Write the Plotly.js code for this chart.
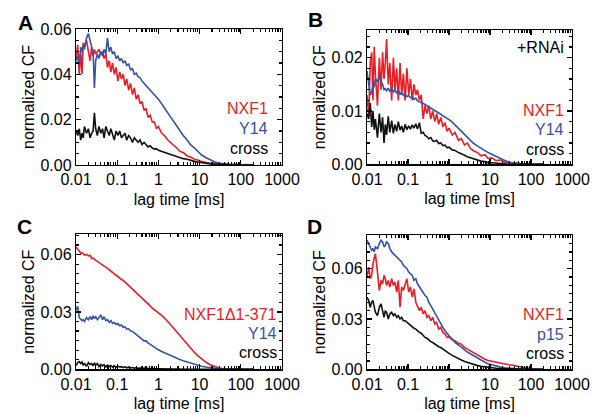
<!DOCTYPE html>
<html><head><meta charset="utf-8">
<script src="https://cdn.plot.ly/plotly-3.0.1.min.js"></script>
<style>html,body{margin:0;padding:0;background:#fff}#chart{width:597px;height:414px}</style>
</head><body><div id="chart"></div>
<script>
// ---------------- DATA ----------------
const lagTime = [
  0.010, 0.011, 0.012, 0.013, 0.014, 0.015, 0.016, 0.018, 0.020, 0.022,
  0.024, 0.026, 0.028, 0.030, 0.033, 0.036, 0.040, 0.044, 0.048, 0.053,
  0.058, 0.064, 0.070, 0.077, 0.085, 0.094, 0.104, 0.115, 0.127, 0.14,
  0.155, 0.17, 0.19, 0.21, 0.235, 0.26, 0.29, 0.32, 0.36, 0.40,
  0.45, 0.50, 0.56, 0.63, 0.71, 0.80, 0.90, 1.0, 1.2, 1.4,
  1.7, 2.0, 2.4, 2.8, 3.3, 4.0, 5.0, 6.0, 7.5, 9.0,
  11, 14, 18, 23, 30, 40, 55, 75, 100, 140, 200
];
// Panel A
const aNXF1 = [
  .047,.053,.040,.050,.040,.054,.052,.055,.050,.046,
  .052,.048,.051,.049,.050,.051,.049,.050,.047,.049,
  .043,.046,.041,.045,.040,.043,.037,.041,.038,.040,
  .035,.038,.033,.036,.031,.034,.029,.031,.027,.028,
  .024,.025,.021,.022,.019,.019,.016,.017,.014,.013,
  .011,.010,.0085,.0075,.006,.0055,.004,.0035,.0025,.0022,
  .0015,.0012,.0008,.0010,.0004,.0006,.0002,.0004,.0001,.0002,0
];
const aY14 = [
  .046,.048,.044,.052,.050,.053,.051,.056,.058,.054,
  .052,.050,.034,.046,.049,.047,.050,.048,.051,.049,
  .056,.050,.052,.049,.050,.047,.048,.046,.047,.045,
  .046,.044,.0445,.042,.0425,.040,.0405,.039,.0385,.037,
  .036,.035,.034,.033,.032,.031,.030,.029,.027,.025,
  .023,.021,.019,.017,.015,.013,.011,.009,.0075,.006,
  .0045,.0033,.0022,.0014,.0008,.0004,.0002,.0001,0,0,0
];
const aCross = [
  .015,.013,.016,.011,.014,.012,.017,.014,.016,.012,
  .014,.015,.023,.016,.013,.017,.014,.016,.012,.017,
  .015,.013,.016,.014,.011,.015,.013,.015,.012,.013,
  .014,.011,.013,.012,.010,.012,.011,.010,.011,.009,
  .010,.009,.008,.0085,.0075,.007,.0072,.0065,.006,.0055,
  .005,.0045,.004,.0038,.0032,.0028,.0025,.002,.0016,.0013,
  .001,.0008,.0005,.0004,.0002,.0003,.0001,0,.0002,0,0
];
// Panel B (+RNAi)
const bNXF1 = [
  .013,.009,.019,.021,.012,.022,.017,.011,.020,.014,
  .021,.016,.019,.0235,.015,.019,.012,.020,.014,.018,
  .012,.019,.013,.017,.012,.018,.013,.016,.012,.015,
  .013,.014,.012,.013,.0085,.011,.0095,.011,.0085,.010,
  .008,.0095,.0075,.0088,.007,.0078,.0062,.0068,.0055,.006,
  .0045,.0048,.0036,.004,.003,.0025,.0022,.0016,.0018,.0011,
  .0012,.0007,.0008,.0004,.0003,.0002,.0002,.0001,0,0,.0001
];
const bY14 = [
  .0175,.015,.013,.0135,.015,.0145,.016,.0155,.0165,.0155,
  .015,.014,.0142,.0138,.0143,.0137,.0142,.0136,.014,.0133,
  .0139,.0131,.0135,.0129,.0132,.0127,.0129,.0125,.0127,.0122,
  .0124,.0119,.0118,.0116,.0114,.0112,.011,.0108,.0106,.0104,
  .0101,.0099,.0096,.0094,.0091,.0089,.0087,.0084,.0079,.0074,
  .0068,.0062,.0056,.005,.0045,.0039,.0034,.003,.0026,.0022,
  .0019,.0015,.0011,.0007,.0004,.0002,.0001,0,0,0,0
];
const bCross = [
  .0095,.0085,.0115,.007,.010,.0065,.0085,.005,.0095,.006,
  .0088,.004,.0075,.0055,.009,.006,.0082,.0058,.0075,.0062,
  .008,.0064,.0072,.006,.0075,.0065,.0072,.0066,.0074,.0068,
  .0076,.0066,.0078,.0058,.006,.0054,.0052,.0048,.005,.0044,
  .0043,.0045,.0039,.004,.0035,.0036,.0031,.0032,.0027,.0026,
  .0022,.002,.0017,.0014,.0012,.001,.0008,.0006,.0005,.0003,
  .0003,.0002,.0001,.0001,0,0,0,0,0,0,0
];
// Panel C
const cNXF1d = [
  .064,.0628,.0622,.0608,.061,.0603,.0598,.0601,.0594,.0596,
  .058,.0582,.0575,.057,.0565,.0558,.0553,.0545,.054,.0535,
  .0528,.0522,.0515,.0508,.050,.0494,.0486,.0478,.047,.0465,
  .0456,.0448,.044,.0432,.0423,.0414,.0405,.0395,.0386,.0376,
  .0365,.0355,.0343,.0332,.032,.0312,.0303,.0295,.0282,.0268,
  .025,.0232,.0212,.0195,.0176,.0153,.0128,.0109,.0088,.0072,
  .0056,.0038,.0024,.0014,.0007,.0003,.0002,.0001,.0001,0,0
];
const cY14 = [
  .031,.033,.027,.026,.0255,.026,.025,.027,.026,.0275,
  .026,.028,.0265,.0275,.026,.027,.0285,.026,.0275,.0255,
  .026,.0245,.0255,.024,.0245,.0235,.024,.0228,.0232,.022,
  .0222,.021,.0212,.020,.0198,.019,.0183,.0176,.0168,.0158,
  .0148,.015,.0138,.013,.0124,.0116,.0109,.0102,.0093,.0086,
  .0077,.007,.0063,.0057,.0051,.0045,.0038,.0032,.0026,.0021,
  .0016,.0012,.0008,.0005,.0003,.0002,.0001,0,0,0,0
];
const cCross = [
  .002,.0035,.004,.003,.0038,.002,.0032,.0015,.0035,.0025,
  .003,.0018,.0034,.0022,.003,.0014,.0026,.0018,.0024,.0012,
  .0022,.0015,.002,.0012,.0018,.001,.0016,.0012,.0014,.0009,
  .0013,.0008,.0011,.0007,.0009,.0006,.0008,.0005,.0007,.0004,
  .0006,.0004,.0005,.0003,.0004,.0002,.0003,.0002,.0002,.0001,
  .0002,.0001,.0001,.0001,0,.0001,0,0,0,0,
  0,0,0,0,0,0,0,0,0,0,0
];
// Panel D
const dNXF1 = [
  .055,.061,.054,.056,.063,.066,.069,.058,.047,.053,
  .051,.056,.054,.050,.053,.049,.054,.050,.052,.046,
  .053,.037,.049,.047,.051,.054,.046,.049,.043,.048,
  .040,.038,.035,.037,.033,.035,.031,.032,.029,.031,
  .027,.028,.024,.025,.022,.021,.019,.0195,.0175,.017,
  .0155,.015,.013,.012,.011,.0095,.008,.007,.006,.0052,
  .0047,.004,.0036,.0032,.0027,.002,.0015,.0009,.0005,.0002,0
];
const dP15 = [
  .077,.075,.073,.071,.072,.070,.073,.072,.075,.077,
  .076,.073,.074,.076,.075,.072,.070,.069,.068,.067,
  .066,.065,.064,.062,.061,.060,.058,.057,.056,.053,
  .054,.051,.049,.048,.046,.044,.043,.040,.038,.036,
  .033,.031,.029,.027,.025,.023,.021,.020,.018,.016,
  .0145,.013,.0115,.0103,.0093,.008,.0065,.0053,.0042,.0033,
  .0026,.0019,.0013,.0009,.0006,.0004,.0002,.0001,0,0,0
];
const dCross = [
  .043,.041,.037,.040,.041,.036,.034,.032,.037,.039,
  .034,.031,.035,.034,.030,.033,.034,.032,.033,.031,
  .032,.030,.031,.029,.029,.028,.027,.026,.025,.0245,
  .024,.023,.022,.0215,.020,.019,.0185,.0175,.0165,.016,
  .015,.0145,.0135,.013,.012,.011,.0102,.0095,.0083,.0073,
  .0063,.0055,.0046,.004,.0034,.0028,.0022,.0018,.0014,.0011,
  .0009,.0006,.0004,.0003,.0002,.0001,0,0,0,0,0
];
const panelLetters = ['A', 'B', 'C', 'D'];
const legendA = ['NXF1', 'Y14', 'cross'];
const legendB = ['NXF1', 'Y14', 'cross'];
const legendC = ['NXF1\u03941-371', 'Y14', 'cross'];
const legendD = ['NXF1', 'p15', 'cross'];
const noteB = '+RNAi';
const xTickVals = [0.01, 0.1, 1, 10, 100, 1000];
const xTickText = ['0.01', '0.1', '1', '10', '100', '1000'];
const yTicksA = [0, 0.02, 0.04, 0.06];
const yTicksB = [0, 0.01, 0.02];
const yTicksC = [0, 0.03, 0.06];
const yTicksD = [0, 0.03, 0.06];

// ---------------- STYLE / LAYOUT ----------------
const W = 597, H = 414;
const FONT = '"Liberation Sans", Arial, Helvetica, sans-serif';
const RED = '#ec1c24', BLUE = '#3551a8', BLACK = '#111111';
const COLORS = [RED, BLUE, BLACK];
const TICKSIZE = 16, TITLESIZE = 16, LEGSIZE = 16, LETTERSIZE = 21;

const minorX = [];
for (const d of [0.01, 0.1, 1, 10, 100]) for (let k = 2; k <= 9; k++) minorX.push(+(k * d).toPrecision(3));

const panels = [
  {box: {l: 76, r: 282, t: 29, b: 165}, yMax: 0.06, yTicks: yTicksA, yMinor: 0.005,
   series: [aNXF1, aY14, aCross], legend: legendA, legX: 270, legY: [108, 128, 148],
   letter: {x: 25, y: 22}},
  {box: {l: 367, r: 572, t: 30, b: 164.3}, yMax: 0.0252, yTicks: yTicksB, yMinor: 0.002,
   series: [bNXF1, bY14, bCross], legend: legendB, legX: 566, legY: [110, 129, 149],
   letter: {x: 315, y: 20}},
  {box: {l: 76, r: 282, t: 234, b: 369.3}, yMax: 0.0708, yTicks: yTicksC, yMinor: 0.005,
   series: [cNXF1d, cY14, cCross], legend: legendC, legX: 279, legY: [314, 333, 352],
   letter: {x: 24, y: 226}},
  {box: {l: 367, r: 572, t: 235, b: 369.3}, yMax: 0.0801, yTicks: yTicksD, yMinor: 0.005,
   series: [dNXF1, dP15, dCross], legend: legendD, legX: 566, legY: [314, 334, 353],
   letter: {x: 314, y: 226}}
];

const px = v => v / W, py = v => 1 - v / H;
const traces = [];
const layout = {
  width: W, height: H, margin: {l: 0, r: 0, t: 0, b: 0},
  paper_bgcolor: '#fff', plot_bgcolor: '#fff', showlegend: false,
  font: {family: FONT, size: TICKSIZE, color: '#000'},
  annotations: []
};

panels.forEach((p, i) => {
  const n = i === 0 ? '' : String(i + 1);
  const xa = 'x' + n, ya = 'y' + n;
  p.series.forEach((ys, j) => {
    traces.push({x: lagTime, y: ys, xaxis: xa, yaxis: ya, type: 'scatter', mode: 'lines',
      line: {color: COLORS[j], width: 1.6}, hoverinfo: 'skip'});
  });
  const common = {showline: true, linecolor: '#000', linewidth: 1.2, mirror: 'allticks',
    ticks: 'inside', ticklen: 5, tickwidth: 1.2, tickcolor: '#000', showgrid: false, zeroline: false,
    tickfont: {family: FONT, size: TICKSIZE, color: '#000'}, fixedrange: true};
  layout['xaxis' + n] = Object.assign({}, common, {
    type: 'log', range: [-2, 3], domain: [px(p.box.l), px(p.box.r)], anchor: ya,
    tickmode: 'array', tickvals: xTickVals, ticktext: xTickText,
    minor: {tickmode: 'array', tickvals: minorX, ticks: 'inside', ticklen: 3, tickcolor: '#000', showgrid: false},
    title: {text: 'lag time [ms]', font: {family: FONT, size: TITLESIZE, color: '#000'}, standoff: 6}
  });
  layout['yaxis' + n] = Object.assign({}, common, {
    range: [0, p.yMax], domain: [py(p.box.b), py(p.box.t)], anchor: xa,
    tickmode: 'array', tickvals: p.yTicks, ticktext: p.yTicks.map(v => v.toFixed(2)),
    minor: {tickmode: 'linear', tick0: 0, dtick: p.yMinor, ticks: 'inside', ticklen: 3, tickcolor: '#000', showgrid: false},
    title: {text: 'normalized CF', font: {family: FONT, size: TITLESIZE, color: '#000'}, standoff: 1}
  });
  p.legend.forEach((t, j) => {
    layout.annotations.push({text: t, xref: 'paper', yref: 'paper', x: px(p.legX), y: py(p.legY[j]),
      xanchor: 'right', yanchor: 'middle', showarrow: false,
      font: {family: FONT, size: LEGSIZE, color: COLORS[j] === BLACK ? '#000' : COLORS[j]}});
  });
  layout.annotations.push({text: '<b>' + panelLetters[i] + '</b>', xref: 'paper', yref: 'paper',
    x: px(p.letter.x), y: py(p.letter.y), xanchor: 'center', yanchor: 'middle', showarrow: false,
    font: {family: FONT, size: LETTERSIZE, color: '#000'}});
});
layout.annotations.push({text: noteB, xref: 'paper', yref: 'paper', x: px(566), y: py(48),
  xanchor: 'right', yanchor: 'middle', showarrow: false, font: {family: FONT, size: LEGSIZE, color: '#000'}});

Plotly.newPlot('chart', traces, layout, {displayModeBar: false, staticPlot: true});
</script>
</body></html>
